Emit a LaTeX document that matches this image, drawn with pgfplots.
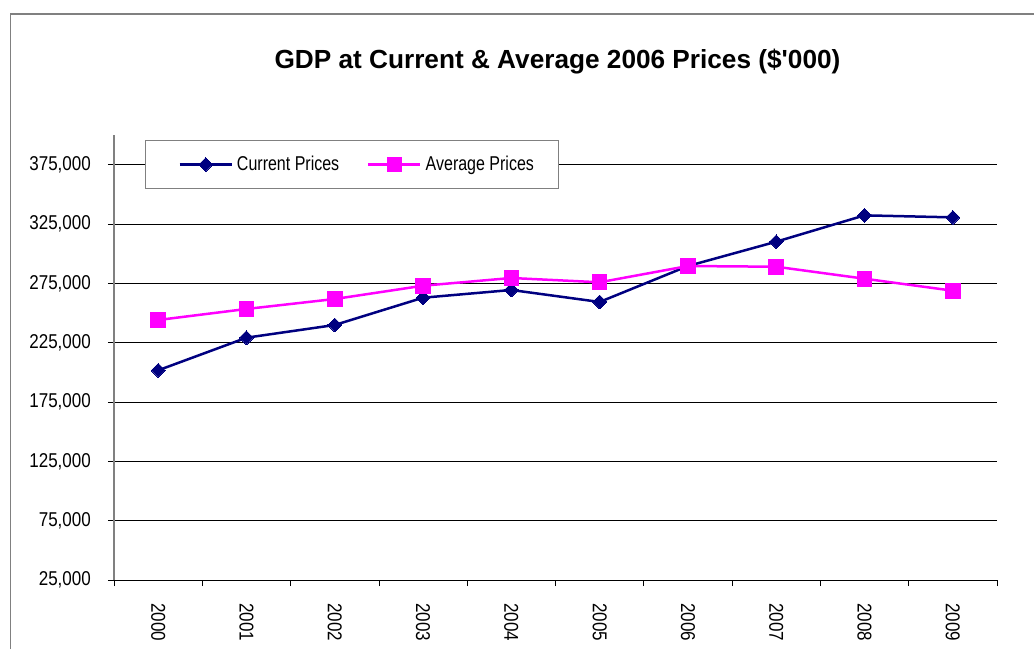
\documentclass[border=0pt]{standalone}
\usepackage{pgfplots}
\pgfplotsset{compat=1.18}
\usepackage{fontspec}
\setmainfont{Liberation Sans}
\newfontfamily\narrowfont[FakeStretch=0.85]{Liberation Sans}
\newfontfamily\legfont[FakeStretch=0.8]{Liberation Sans}
\definecolor{navyc}{HTML}{000080}
\definecolor{magc}{HTML}{FF00FF}
\definecolor{framec}{HTML}{808080}
\begin{document}
\begin{tikzpicture}[x=1pt,y=1pt]
\useasboundingbox (0,0) rectangle (1034,-649);
\fill[white] (0,0) rectangle (1034,-649);
\draw[framec, line width=1.5pt] (10.5,-649) -- (10.5,-14) -- (1034,-14);
\node[font=\bfseries\fontsize{26.2}{30}\selectfont] at (557.5,-62) {GDP at Current \& Average 2006 Prices (\$\textquotesingle 000)};
\begin{axis}[
  at={(114pt,-580pt)}, anchor=south west,
  scale only axis, width=883pt, height=445pt,
  xmin=-0.5, xmax=9.5, ymin=25000, ymax=400000,
  axis x line*=bottom, axis y line*=left,
  x axis line style={black, line width=1pt},
  y axis line style={framec, line width=1.5pt},
  tick align=outside, major tick length=6pt,
  tick style={black, line width=0.8pt},
  xtick={-0.5,0.5,...,9.5},
  x tick label as interval,
  xticklabels={2000,2001,2002,2003,2004,2005,2006,2007,2008,2009},
  ytick={25000,75000,...,375000},
  ymajorgrids, major grid style={black, line width=0.9pt},
  scaled y ticks=false,
  /pgf/number format/assume math mode=true,
  yticklabel={\pgfmathprintnumber[fixed,1000 sep={,}]{\tick}},
  tick label style={font=\narrowfont\fontsize{20}{24}\selectfont},
  yticklabel style={anchor=east, inner sep=0pt},
  xticklabel style={rotate=-90, anchor=west, inner sep=0pt},
  yticklabel shift=17pt,
  xticklabel shift=17pt,
  clip=false,
  legend columns=2,
  legend style={at={(0.0351,0.9888)}, anchor=north west,
    draw=framec, line width=1pt, fill=white,
    inner xsep=25pt, inner ysep=16pt,
    font=\legfont\fontsize{20}{24}\selectfont,
    nodes={inner sep=0pt},
    /tikz/every odd column/.append style={column sep=4pt},
    /tikz/every even column/.append style={column sep=20pt}},
  legend image code/.code={\path (0pt,0pt); \draw[mark repeat=2,mark phase=2,#1] plot coordinates {(8pt,0pt) (34pt,0pt) (60pt,0pt)};},
]
\addplot[navyc, line width=2.5pt, mark=square*, mark size=4.9pt, mark options={rotate=45, solid, line width=0pt}] coordinates {
(0,201700) (1,229200) (2,239900) (3,262900) (4,269400)
(5,259300) (6,289600) (7,310100) (8,332300) (9,330600)};
\addlegendentry{Current Prices}
\addplot[magc, line width=2.5pt, mark=square*, mark size=7.3pt, mark options={solid, line width=0pt}] coordinates {
(0,244100) (1,253400) (2,261800) (3,273000) (4,279500)
(5,275900) (6,289600) (7,289000) (8,278900) (9,268800)};
\addlegendentry{Average Prices}
\end{axis}
\end{tikzpicture}
\end{document}
